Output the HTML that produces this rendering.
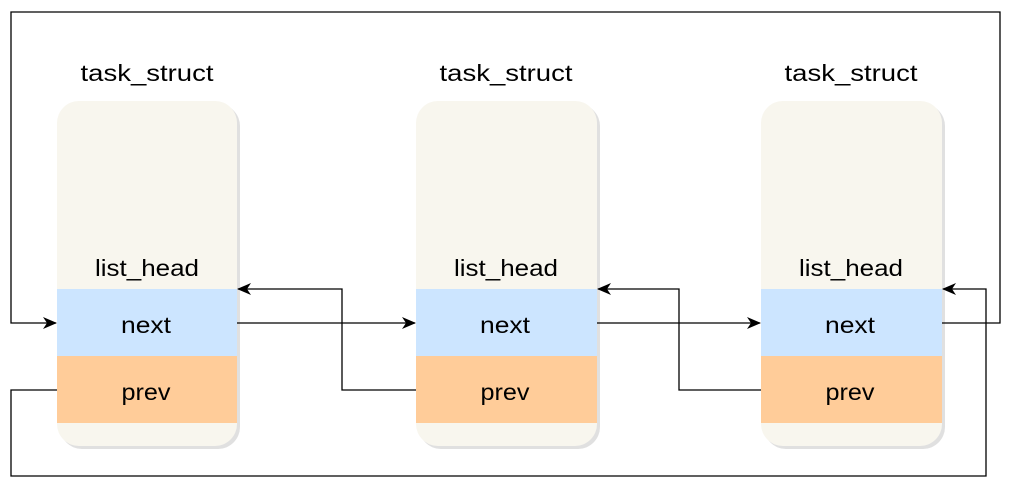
<!DOCTYPE html>
<html><head><style>
body{margin:0;width:1014px;height:489px;background:#fff;overflow:hidden}
text{font-family:"Liberation Sans",sans-serif;font-size:23px;fill:#000}
</style></head><body>
<svg width="1014" height="489" viewBox="0 0 1014 489">
<defs>
<marker id="a" markerWidth="14" markerHeight="12" refX="13" refY="6" orient="auto" markerUnits="userSpaceOnUse">
<path d="M0,0 L14,6 L0,12 L4,6 Z" fill="#000"/></marker>
<clipPath id="c1"><rect x="57" y="101" width="180" height="345" rx="22"/></clipPath>
<clipPath id="c2"><rect x="416" y="101" width="181" height="345" rx="22"/></clipPath>
<clipPath id="c3"><rect x="761" y="101" width="181" height="345" rx="22"/></clipPath>
</defs>
<g>
<rect x="60" y="104" width="180" height="345" rx="22" fill="#ccc" opacity="0.6"/>
<rect x="57" y="101" width="180" height="345" rx="22" fill="#f8f6ee"/>
<g clip-path="url(#c1)"><rect x="57" y="289" width="180" height="67" fill="#cce5ff"/><rect x="57" y="356" width="180" height="67" fill="#ffcc99"/></g>
<rect x="419" y="104" width="181" height="345" rx="22" fill="#ccc" opacity="0.6"/>
<rect x="416" y="101" width="181" height="345" rx="22" fill="#f8f6ee"/>
<g clip-path="url(#c2)"><rect x="416" y="289" width="181" height="67" fill="#cce5ff"/><rect x="416" y="356" width="181" height="67" fill="#ffcc99"/></g>
<rect x="764" y="104" width="181" height="345" rx="22" fill="#ccc" opacity="0.6"/>
<rect x="761" y="101" width="181" height="345" rx="22" fill="#f8f6ee"/>
<g clip-path="url(#c3)"><rect x="761" y="289" width="181" height="67" fill="#cce5ff"/><rect x="761" y="356" width="181" height="67" fill="#ffcc99"/></g>
</g>
<g text-anchor="middle" lengthAdjust="spacingAndGlyphs">
<text x="147" y="81" textLength="133" lengthAdjust="spacingAndGlyphs">task_struct</text>
<text x="506" y="81" textLength="133" lengthAdjust="spacingAndGlyphs">task_struct</text>
<text x="851" y="81" textLength="133" lengthAdjust="spacingAndGlyphs">task_struct</text>
<text x="147" y="276" textLength="104" lengthAdjust="spacingAndGlyphs">list_head</text>
<text x="506" y="276" textLength="104" lengthAdjust="spacingAndGlyphs">list_head</text>
<text x="851" y="276" textLength="104" lengthAdjust="spacingAndGlyphs">list_head</text>
<text x="146" y="333" textLength="50" lengthAdjust="spacingAndGlyphs">next</text>
<text x="505" y="333" textLength="50" lengthAdjust="spacingAndGlyphs">next</text>
<text x="850" y="333" textLength="50" lengthAdjust="spacingAndGlyphs">next</text>
<text x="146" y="400" textLength="49" lengthAdjust="spacingAndGlyphs">prev</text>
<text x="505" y="400" textLength="49" lengthAdjust="spacingAndGlyphs">prev</text>
<text x="850" y="400" textLength="49" lengthAdjust="spacingAndGlyphs">prev</text>
</g>
<g fill="none" stroke="#000" stroke-width="1.3">
<path d="M942,323 H1000 V12 H11 V323 H56" marker-end="url(#a)"/>
<path d="M57,390 H11 V476 H986 V289 H943" marker-end="url(#a)"/>
<path d="M237,323 H415" marker-end="url(#a)"/>
<path d="M597,323 H760" marker-end="url(#a)"/>
<path d="M416,390 H342 V289 H238" marker-end="url(#a)"/>
<path d="M761,390 H679 V289 H598" marker-end="url(#a)"/>
</g>
</svg>
</body></html>
